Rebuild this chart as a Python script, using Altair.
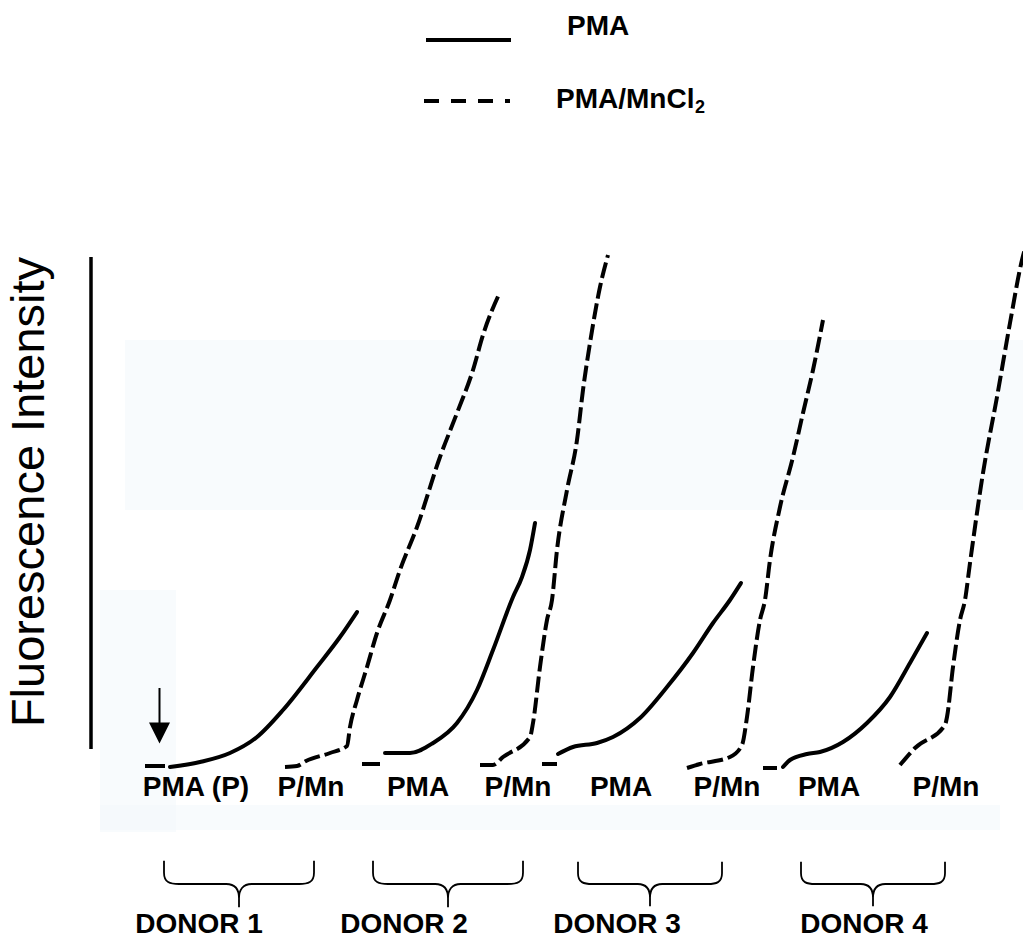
import altair as alt
import pandas as pd

W, H = 1023, 944
TOP = 770  # intensity value at the top edge of the frame; 0 = resting baseline

# ---------------------------------------------------------------------------
# Fluorescence recordings (time in a.u., intensity above resting level in a.u.)
# ---------------------------------------------------------------------------
# Donor 1
d1_pma_pre_t = [145, 165]
d1_pma_pre_f = [4, 4]
d1_pma_t = [170, 200, 230, 257, 283, 317, 340, 357]
d1_pma_f = [3, 8, 17, 33, 60, 103, 133, 158]
d1_mn_t = [285, 297, 306, 330, 347, 350, 357, 367, 377, 390, 400, 417, 440, 457, 473, 483, 500]
d1_mn_f = [3, 4, 9, 17, 24, 43, 70, 103, 137, 170, 200, 243, 313, 357, 400, 435, 478]

# Donor 2
d2_pma_pre_t = [362, 380]
d2_pma_pre_f = [6, 6]
d2_pma_t = [385, 410, 433, 457, 477, 493, 513, 522, 530, 535]
d2_pma_f = [17, 17, 27, 47, 80, 120, 173, 193, 220, 247]
d2_mn_t = [480, 493, 503, 530, 533, 540, 547, 552, 557, 567, 577, 583, 590, 600, 608]
d2_mn_f = [5, 5, 13, 33, 47, 103, 150, 170, 220, 280, 330, 380, 427, 483, 515]

# Donor 3
d3_pma_pre_t = [542, 557]
d3_pma_pre_f = [6, 6]
d3_pma_t = [558, 573, 597, 613, 640, 667, 693, 713, 730, 741]
d3_pma_f = [16, 23, 27, 33, 52, 83, 117, 147, 170, 187]
d3_mn_t = [687, 700, 730, 742, 747, 753, 760, 765, 770, 780, 793, 803, 813, 823]
d3_mn_f = [2, 6, 13, 25, 53, 103, 150, 170, 210, 263, 313, 357, 400, 450]

# Donor 4
d4_pma_pre_t = [763, 777]
d4_pma_pre_f = [2, 2]
d4_pma_t = [783, 790, 807, 820, 843, 867, 890, 910, 927]
d4_pma_f = [3, 10, 16, 18, 28, 47, 73, 107, 137]
d4_mn_t = [900, 915, 945, 947, 953, 960, 965, 970, 983, 997, 1010, 1022, 1026]
d4_mn_f = [5, 22, 45, 53, 103, 150, 170, 207, 297, 373, 447, 510, 525]

# Category labels
cond_labels = ["PMA (P)", "P/Mn", "PMA", "P/Mn", "PMA", "P/Mn", "PMA", "P/Mn"]
donor_labels = ["DONOR 1", "DONOR 2", "DONOR 3", "DONOR 4"]
legend_labels = ["PMA", "PMA/MnCl"]
legend_sub = "2"
y_title = "Fluorescence Intensity"

# ---------------------------------------------------------------------------
# Layout of annotations (frame units)
# ---------------------------------------------------------------------------
cond_x = [196, 311, 418, 518, 621, 727, 829, 946]
cond_y = TOP - 796
brace_x = [239, 448, 650, 873]
brace_w = [150, 150, 144, 144]
brace_y = TOP - 884
donor_x = [199, 404, 617, 864]
donor_y = TOP - 933


def build(series):
    rows = []
    for name, ts, fs in series:
        for i, (t, f) in enumerate(zip(ts, fs)):
            rows.append({"trace": name, "i": i, "t": t, "f": f})
    return pd.DataFrame(rows)


solid_df = build([
    ("d1_pma", d1_pma_t, d1_pma_f),
    ("d2_pma", d2_pma_t, d2_pma_f),
    ("d3_pma", d3_pma_t, d3_pma_f),
    ("d4_pma", d4_pma_t, d4_pma_f),
])
pre_df = build([
    ("d1_pre", d1_pma_pre_t, d1_pma_pre_f),
    ("d2_pre", d2_pma_pre_t, d2_pma_pre_f),
    ("d3_pre", d3_pma_pre_t, d3_pma_pre_f),
    ("d4_pre", d4_pma_pre_t, d4_pma_pre_f),
])
dashed_df = build([
    ("d1_mn", d1_mn_t, d1_mn_f),
    ("d2_mn", d2_mn_t, d2_mn_f),
    ("d3_mn", d3_mn_t, d3_mn_f),
    ("d4_mn", d4_mn_t, d4_mn_f),
])

xs = alt.Scale(domain=[0, W], nice=False, zero=False)
ys = alt.Scale(domain=[TOP - H, TOP], nice=False, zero=False)
X = lambda f="t": alt.X(f"{f}:Q", scale=xs, axis=None)
Y = lambda f="f": alt.Y(f"{f}:Q", scale=ys, axis=None)

FONT = "Liberation Sans"
LABEL_SIZE = 28

# faint tint of the paper
haze_df = pd.DataFrame({
    "t": [125, 100, 100],
    "t2": [1023, 176, 1000],
    "f": [TOP - 340, TOP - 590, TOP - 805],
    "f2": [TOP - 510, TOP - 832, TOP - 830],
})
haze = alt.Chart(haze_df).mark_rect(color="#f2f8fb", opacity=0.55).encode(
    x=X("t"), x2="t2", y=Y("f"), y2="f2"
)

solid = alt.Chart(solid_df).mark_line(
    color="black", strokeWidth=4, strokeCap="round", interpolate="monotone", clip=True
).encode(x=X(), y=Y(), detail="trace:N", order="i:Q")

pre = alt.Chart(pre_df).mark_line(
    color="black", strokeWidth=4, strokeCap="butt", clip=True
).encode(x=X(), y=Y(), detail="trace:N", order="i:Q")

dashed = alt.Chart(dashed_df).mark_line(
    color="black", strokeWidth=4, strokeCap="butt", strokeDash=[16, 5],
    interpolate="monotone", clip=True
).encode(x=X(), y=Y(), detail="trace:N", order="i:Q")

# intensity scale bar and its title
bar_df = pd.DataFrame({"t": [91], "f": [TOP - 257], "f2": [TOP - 749]})
bar = alt.Chart(bar_df).mark_rule(color="black", strokeWidth=3.5).encode(
    x=X(), y=Y(), y2="f2"
)
ytitle = alt.Chart(pd.DataFrame({"t": [30], "f": [TOP - 492], "txt": [y_title]})).mark_text(
    angle=270, font=FONT, fontSize=47, align="center", baseline="middle", color="black"
).encode(x=X(), y=Y(), text="txt:N")

# stimulus arrow
shaft = alt.Chart(pd.DataFrame({"t": [159.5], "f": [TOP - 688], "f2": [TOP - 726]})).mark_rule(
    color="black", strokeWidth=2
).encode(x=X(), y=Y(), y2="f2")
head = alt.Chart(pd.DataFrame({"t": [159.5], "f": [TOP - 733]})).mark_point(
    shape="M-1,-1L1,-1L0,1Z", size=441, filled=True, color="black", opacity=1
).encode(x=X(), y=Y())

# condition labels
cond = alt.Chart(pd.DataFrame({"t": cond_x, "f": [cond_y] * len(cond_x), "txt": cond_labels})).mark_text(
    font=FONT, fontSize=LABEL_SIZE, fontWeight="bold", align="center", baseline="alphabetic", color="black"
).encode(x=X(), y=Y(), text="txt:N")

# braces grouping each donor
BRACE = ("M-1,-0.31 L-1,-0.15 C-1,-0.02 -0.92,0 -0.8,0 L-0.17,0 C-0.05,0 0,0.08 0,0.19 L0,0.31 "
         "M0,0.19 C0,0.08 0.05,0 0.17,0 L0.8,0 C0.92,0 1,-0.02 1,-0.15 L1,-0.31")
braces = alt.Chart(pd.DataFrame({"t": brace_x, "f": [brace_y] * 4, "w": [w * w for w in brace_w]})).mark_point(
    shape=BRACE, filled=False, color="black", strokeWidth=1.8, opacity=1
).encode(x=X(), y=Y(), size=alt.Size("w:Q", scale=None, legend=None))

donors = alt.Chart(pd.DataFrame({"t": donor_x, "f": [donor_y] * 4, "txt": donor_labels})).mark_text(
    font=FONT, fontSize=LABEL_SIZE, fontWeight="bold", align="center", baseline="alphabetic", color="black"
).encode(x=X(), y=Y(), text="txt:N")

# legend
leg_solid = alt.Chart(pd.DataFrame({"t": [426], "t2": [511], "f": [TOP - 40]})).mark_rule(
    color="black", strokeWidth=4
).encode(x=X(), x2="t2", y=Y())
leg_dash = alt.Chart(pd.DataFrame({"t": [424], "t2": [510], "f": [TOP - 101]})).mark_rule(
    color="black", strokeWidth=4, strokeDash=[15, 12]
).encode(x=X(), x2="t2", y=Y())
leg_text = alt.Chart(pd.DataFrame({
    "t": [567, 556], "f": [TOP - 35, TOP - 108], "txt": legend_labels
})).mark_text(
    font=FONT, fontSize=LABEL_SIZE, fontWeight="bold", align="left", baseline="alphabetic", color="black"
).encode(x=X(), y=Y(), text="txt:N")
leg_sub = alt.Chart(pd.DataFrame({"t": [695], "f": [TOP - 113], "txt": [legend_sub]})).mark_text(
    font=FONT, fontSize=18, fontWeight="bold", align="left", baseline="alphabetic", color="black"
).encode(x=X(), y=Y(), text="txt:N")

chart = alt.layer(
    haze, bar, ytitle, pre, solid, dashed, shaft, head, cond, braces, donors,
    leg_solid, leg_dash, leg_text, leg_sub
).properties(
    width=W, height=H, padding=0, autosize=alt.AutoSizeParams(type="none"),
    background="white"
).configure_view(stroke=None)

chart.save("out.html", embed_options={"renderer": "svg", "actions": False})
